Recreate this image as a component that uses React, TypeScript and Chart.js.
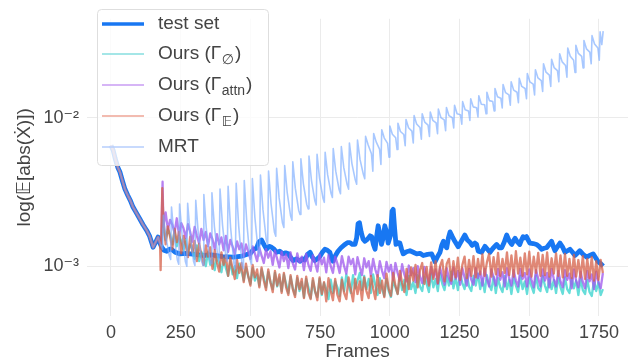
import React, { useEffect, useRef } from 'react';
import { Chart, registerables } from 'chart.js';

Chart.register(...registerables);

// All values below are in units of 10^-3
const UNIT = 1e-3;

const xTicks = [0, 250, 500, 750, 1000, 1250, 1500, 1750];
const yTicks = [1e-3, 1e-2];
const yTickLabels = ['10⁻³', '10⁻²'];

// test set (blue thick line)
const testFrames = [
  0, 8, 15, 25, 32, 42, 50, 60, 70, 79, 90, 104, 115, 128, 138, 146, 151, 160, 169, 176,
  182, 190, 200, 210, 217, 230, 247, 270, 300, 330, 360, 400, 440, 470, 500, 512, 522, 530, 540, 550,
  558, 567, 576, 585, 594, 605, 617, 626, 636, 645, 653, 665, 678, 687, 695, 705, 714, 722, 731, 740,
  749, 758, 767, 776, 785, 790, 796, 805, 814, 825, 839, 848, 857, 866, 875, 881, 886, 891, 897, 904,
  911, 920, 929, 935, 941, 947, 953, 958, 964, 970, 976, 982, 988, 994, 1002, 1008, 1012, 1017, 1022, 1030,
  1036, 1042, 1048, 1060, 1072, 1084, 1096, 1108, 1120, 1135, 1150, 1156, 1162, 1170, 1180, 1186, 1192, 1198, 1204, 1210,
  1216, 1224, 1233, 1240, 1245, 1257, 1269, 1278, 1287, 1295, 1305, 1311, 1317, 1323, 1329, 1341, 1350, 1359, 1370, 1383,
  1392, 1401, 1410, 1419, 1428, 1437, 1443, 1449, 1458, 1466, 1472, 1478, 1484, 1490, 1496, 1502, 1514, 1526, 1535, 1544,
  1553, 1562, 1571, 1580, 1586, 1592, 1601, 1610, 1619, 1628, 1637, 1646, 1655, 1664, 1672, 1681, 1693, 1706, 1717, 1729,
  1738, 1747, 1756, 1765,
];
const testValues = [
  6.5, 6.0, 5.3, 4.6, 4.3, 3.7, 3.3, 3.0, 2.75, 2.5, 2.3, 2.07, 1.9, 1.74, 1.6, 1.44, 1.34, 1.45, 1.57, 1.42,
  1.34, 1.28, 1.26, 1.3, 1.3, 1.24, 1.21, 1.22, 1.2, 1.18, 1.19, 1.16, 1.15, 1.17, 1.22, 1.3, 1.32, 1.45, 1.5, 1.38,
  1.3, 1.36, 1.34, 1.3, 1.24, 1.26, 1.21, 1.23, 1.21, 1.14, 1.09, 1.12, 1.08, 1.12, 1.1, 1.2, 1.24, 1.15, 1.09, 1.12,
  1.16, 1.24, 1.3, 1.28, 1.24, 1.14, 1.08, 1.18, 1.26, 1.33, 1.4, 1.44, 1.44, 1.4, 1.4, 1.55, 1.93, 1.96, 1.7, 1.52,
  1.47, 1.52, 1.6, 1.58, 1.4, 1.3, 1.6, 1.87, 1.65, 1.4, 1.55, 1.87, 1.7, 1.43, 1.6, 2.35, 2.41, 1.8, 1.4, 1.44,
  1.43, 1.3, 1.21, 1.25, 1.27, 1.24, 1.21, 1.22, 1.18, 1.2, 1.21, 1.14, 1.07, 1.15, 1.24, 1.38, 1.47, 1.38, 1.33, 1.55,
  1.7, 1.58, 1.47, 1.4, 1.35, 1.48, 1.62, 1.5, 1.45, 1.38, 1.43, 1.4, 1.26, 1.25, 1.24, 1.36, 1.3, 1.24, 1.32, 1.4,
  1.33, 1.33, 1.45, 1.62, 1.48, 1.4, 1.48, 1.54, 1.45, 1.4, 1.5, 1.58, 1.55, 1.58, 1.5, 1.43, 1.42, 1.4, 1.36, 1.3,
  1.32, 1.33, 1.4, 1.47, 1.36, 1.27, 1.35, 1.43, 1.35, 1.24, 1.27, 1.3, 1.24, 1.18, 1.22, 1.27, 1.2, 1.15, 1.18, 1.21,
  1.14, 1.07, 1.04, 1.0,
];

// Ours series: sampled every 8 frames starting at frame 188
const OURS_START = 188;
const OURS_STEP = 8;

const cyanLeadFrames = [181, 186];
const cyanLeadValues = [1.38, 2.05];
const cyanValues = [
  1.86, 1.50, 1.78, 1.62, 1.40, 1.72, 1.36, 1.60, 1.48, 1.28,
  1.52, 1.22, 1.40, 1.30, 1.12, 1.38, 1.08, 1.25, 1.18, 1.00,
  1.24, 1.02, 1.12, 0.94, 1.18, 1.05, 0.91, 1.12, 0.97, 0.86,
  1.08, 0.88, 1.00, 0.83, 1.04, 0.93, 0.80, 0.98, 0.86, 0.76,
  0.97, 0.80, 0.88, 0.74, 0.95, 0.84, 0.72, 0.91, 0.78, 0.70,
  0.90, 0.73, 0.84, 0.68, 0.88, 0.76, 0.66, 0.85, 0.71, 0.64,
  0.83, 0.68, 0.78, 0.62, 0.82, 0.72, 0.61, 0.80, 0.67, 0.62,
  0.82, 0.64, 0.77, 0.70, 0.60, 0.81, 0.66, 0.79, 0.72, 0.63,
  0.84, 0.68, 0.88, 0.74, 0.66, 0.87, 0.71, 0.80, 0.90, 0.69,
  0.86, 0.70, 0.82, 0.66, 0.88, 0.74, 0.64, 0.83, 0.70, 0.63,
  0.82, 0.68, 0.62, 0.80, 0.72, 0.65, 0.84, 0.69, 0.81, 0.64,
  0.86, 0.70, 0.78, 0.66, 0.87, 0.73, 0.68, 0.85, 0.76, 0.67,
  0.89, 0.72, 0.82, 0.68, 0.90, 0.76, 0.69, 0.86, 0.74, 0.92,
  0.71, 0.84, 0.69, 0.90, 0.77, 0.70, 0.88, 0.73, 0.68, 0.86,
  0.74, 0.89, 0.70, 0.82, 0.67, 0.87, 0.75, 0.69, 0.85, 0.66,
  0.83, 0.72, 0.67, 0.86, 0.70, 0.81, 0.65, 0.84, 0.74, 0.67,
  0.86, 0.70, 0.79, 0.65, 0.84, 0.73, 0.66, 0.87, 0.71, 0.68,
  0.86, 0.74, 0.67, 0.84, 0.70, 0.81, 0.66, 0.85, 0.72, 0.65,
  0.84, 0.70, 0.66, 0.83, 0.71, 0.80, 0.64, 0.82, 0.69, 0.65,
  0.81, 0.67, 0.63, 0.80, 0.68, 0.78, 0.64, 0.70,
];

const attnLeadFrames = [180, 185];
const attnLeadValues = [1.40, 3.70];
const attnValues = [
  1.85, 2.30, 1.76, 2.05, 1.90, 1.68, 2.10, 1.62, 1.95, 1.80,
  1.55, 1.92, 1.70, 1.46, 1.84, 1.60, 1.42, 1.78, 1.50, 1.70,
  1.36, 1.66, 1.52, 1.30, 1.64, 1.40, 1.56, 1.28, 1.60, 1.25,
  1.50, 1.36, 1.20, 1.47, 1.30, 1.42, 1.16, 1.40, 1.26, 1.12,
  1.36, 1.22, 1.08, 1.33, 1.18, 1.05, 1.30, 1.14, 1.26, 1.02,
  1.27, 1.12, 0.98, 1.25, 1.08, 1.20, 0.97, 1.24, 1.04, 0.95,
  1.22, 1.06, 1.16, 0.94, 1.21, 1.02, 0.93, 1.18, 1.05, 0.92,
  1.20, 1.03, 1.14, 0.91, 1.19, 1.00, 0.90, 1.16, 1.04, 0.90,
  1.17, 1.00, 0.89, 1.16, 1.03, 1.12, 0.88, 1.15, 0.99, 0.87,
  1.13, 0.98, 1.08, 0.86, 1.12, 0.95, 0.85, 1.08, 0.93, 0.83,
  1.07, 0.92, 1.02, 0.81, 1.05, 0.90, 0.80, 1.03, 0.88, 0.79,
  1.01, 0.87, 0.97, 0.78, 1.00, 0.85, 0.77, 0.99, 0.86, 0.76,
  0.99, 0.84, 0.95, 0.76, 0.98, 0.85, 0.75, 0.97, 0.83, 0.76,
  0.98, 0.82, 0.93, 0.75, 0.97, 0.84, 0.74, 0.96, 0.81, 0.75,
  0.97, 0.83, 0.92, 0.74, 0.96, 0.82, 0.73, 0.95, 0.84, 0.74,
  0.96, 0.81, 0.91, 0.73, 0.97, 0.83, 0.74, 0.94, 0.80, 0.73,
  0.96, 0.82, 0.90, 0.73, 0.95, 0.81, 0.72, 0.94, 0.83, 0.73,
  0.95, 0.80, 0.90, 0.72, 0.96, 0.82, 0.73, 0.93, 0.79, 0.72,
  0.94, 0.81, 0.89, 0.71, 0.95, 0.80, 0.72, 0.92, 0.78, 0.71,
  0.93, 0.79, 0.88, 0.70, 0.92, 0.78, 0.71, 0.90,
];

const eLeadFrames = [178, 184];
const eLeadValues = [0.94, 3.35];
const eValues = [
  2.00, 1.40, 1.85, 1.58, 1.30, 1.78, 1.45, 1.70, 1.22, 1.60,
  1.38, 1.15, 1.58, 1.24, 1.48, 1.08, 1.42, 1.20, 1.02, 1.38,
  1.16, 1.34, 0.96, 1.28, 1.06, 0.92, 1.24, 1.02, 1.18, 0.86,
  1.14, 0.96, 0.82, 1.10, 0.90, 1.05, 0.78, 1.04, 0.86, 0.74,
  1.02, 0.84, 0.95, 0.72, 0.98, 0.80, 0.69, 0.95, 0.78, 0.67,
  0.93, 0.74, 0.88, 0.66, 0.90, 0.72, 0.64, 0.87, 0.70, 0.62,
  0.86, 0.70, 0.82, 0.61, 0.85, 0.66, 0.60, 0.83, 0.68, 0.59,
  0.84, 0.65, 0.78, 0.58, 0.83, 0.68, 0.59, 0.82, 0.64, 0.58,
  0.81, 0.66, 0.60, 0.84, 0.70, 0.58, 0.82, 0.65, 0.79, 0.59,
  0.84, 0.68, 0.61, 0.86, 0.71, 0.60, 0.87, 0.66, 0.80, 0.62,
  0.89, 0.70, 0.63, 0.90, 0.74, 0.65, 0.93, 0.77, 0.67, 0.96,
  0.70, 0.98, 0.80, 1.02, 0.72, 0.94, 1.05, 0.76, 0.99, 0.74,
  1.06, 0.82, 1.08, 0.77, 1.00, 1.10, 0.79, 1.04, 1.12, 0.80,
  1.08, 0.84, 1.14, 0.81, 1.02, 1.16, 0.83, 1.10, 0.86, 1.17,
  0.84, 1.12, 0.88, 1.20, 0.86, 1.06, 1.21, 0.85, 1.15, 0.88,
  1.23, 0.86, 1.12, 0.90, 1.24, 0.87, 1.18, 0.85, 1.26, 0.89,
  1.14, 0.86, 1.22, 0.88, 1.25, 0.85, 1.16, 0.90, 1.23, 0.86,
  1.19, 0.87, 1.24, 0.85, 1.13, 0.89, 1.22, 0.86, 1.18, 0.84,
  1.21, 0.86, 1.12, 0.83, 1.19, 0.85, 1.10, 0.84, 1.17, 0.82,
  1.12, 0.83, 1.15, 0.80, 1.08, 0.81, 1.10, 0.90,
];

// MRT (sawtooth that grows over time)
const mrtFrames = [
  185, 188, 197, 209, 214, 217, 226, 238, 243, 246, 255, 267, 272, 275, 284, 296,
  301, 304, 313, 325, 330, 333, 342, 354, 359, 362, 371, 383, 388, 391, 400, 412,
  417, 420, 429, 441, 446, 449, 458, 470, 475, 478, 487, 499, 504, 507, 516, 528,
  533, 536, 545, 557, 562, 565, 574, 586, 591, 594, 603, 615, 620, 623, 632, 644,
  649, 652, 661, 673, 678, 681, 690, 702, 707, 710, 719, 731, 736, 739, 748, 760,
  765, 768, 777, 789, 794, 797, 806, 818, 823, 826, 835, 847, 852, 855, 864, 876,
  881, 884, 893, 905, 910, 913, 922, 934, 939, 942, 951, 963, 968, 971, 980, 992,
  997, 1000, 1009, 1021, 1026, 1029, 1038, 1050, 1055, 1058, 1067, 1079, 1084, 1087, 1096, 1108,
  1113, 1116, 1125, 1137, 1142, 1145, 1154, 1166, 1171, 1174, 1183, 1195, 1200, 1203, 1212, 1224,
  1229, 1232, 1241, 1253, 1258, 1261, 1270, 1282, 1287, 1290, 1299, 1311, 1316, 1319, 1328, 1340,
  1345, 1348, 1357, 1369, 1374, 1377, 1386, 1398, 1403, 1406, 1415, 1427, 1432, 1435, 1444, 1456,
  1461, 1464, 1473, 1485, 1490, 1493, 1502, 1514, 1519, 1522, 1531, 1543, 1548, 1551, 1560, 1572,
  1577, 1580, 1589, 1601, 1606, 1609, 1618, 1630, 1635, 1638, 1647, 1659, 1664, 1667, 1676, 1688,
  1693, 1696, 1705, 1717, 1722, 1725, 1734, 1746, 1751, 1754, 1760, 1765,
];
const mrtValues = [
  1.30, 2.20, 1.56, 1.18, 1.11, 2.50, 1.60, 1.10, 1.03, 2.62, 1.62, 1.07, 1.00, 2.65, 1.64, 1.08,
  1.01, 2.77, 1.67, 1.08, 1.01, 3.03, 1.78, 1.11, 1.04, 3.12, 1.84, 1.16, 1.09, 3.30, 1.89, 1.15,
  1.08, 3.45, 1.82, 1.03, 0.96, 3.61, 1.86, 1.02, 0.96, 3.77, 1.97, 1.10, 1.03, 3.88, 2.13, 1.25,
  1.17, 4.11, 2.40, 1.50, 1.40, 4.36, 2.63, 1.70, 1.59, 4.55, 2.88, 1.95, 1.82, 4.76, 3.12, 2.18,
  2.04, 5.04, 3.35, 2.38, 2.23, 5.27, 3.58, 2.60, 2.43, 5.50, 3.77, 2.76, 2.58, 5.66, 3.90, 2.88,
  2.69, 5.83, 4.11, 3.10, 2.90, 6.18, 4.36, 3.28, 3.07, 6.37, 4.58, 3.53, 3.30, 6.75, 4.90, 3.81,
  3.56, 7.05, 5.23, 4.15, 3.88, 7.47, 6.57, 5.71, 4.36, 7.80, 6.86, 6.14, 4.83, 8.27, 7.28, 6.70,
  5.42, 8.77, 7.72, 7.31, 6.09, 9.16, 8.06, 7.69, 6.46, 9.71, 8.54, 8.10, 6.75, 10.3, 9.06, 8.58,
  7.15, 10.6, 9.33, 8.90, 7.47, 10.9, 9.59, 9.22, 7.80, 11.4, 10.0, 9.64, 8.15, 11.7, 10.3, 9.98,
  8.52, 12.1, 10.6, 10.45, 9.03, 12.8, 11.3, 11.07, 9.57, 13.4, 11.8, 11.63, 10.1, 14.0, 12.3, 12.18,
  10.6, 14.8, 13.0, 12.82, 11.1, 15.7, 13.8, 13.5, 11.6, 16.7, 14.7, 14.2, 12.1, 17.4, 15.3, 14.8,
  12.6, 18.4, 16.2, 15.7, 13.4, 19.8, 17.4, 16.8, 14.2, 21.0, 18.5, 17.7, 15.0, 23.0, 20.2, 19.3,
  16.2, 24.7, 21.7, 20.7, 17.4, 26.9, 23.7, 22.4, 18.7, 29.4, 25.9, 24.3, 20.1, 30.7, 27.0, 25.8,
  21.6, 33.0, 29.0, 27.6, 23.0, 35.6, 31.3, 29.4, 24.3, 37.7, 31.0, 38.2,
];

const FONT = '"Liberation Sans", Arial, "DejaVu Sans", sans-serif';
const TEXT = '#444444';

const COLORS = {
  test: '#1877f2',
  empty: 'rgba(64, 212, 208, 0.8)',
  attn: 'rgba(158, 86, 236, 0.75)',
  e: 'rgba(214, 96, 72, 0.75)',
  mrt: 'rgba(122, 170, 255, 0.65)',
};
const LEGEND_COLORS = ['#1877f2', '#86dedf', '#c99cf3', '#eea596', '#b6cefc'];

const pts = (frames: number[], values: number[]) => frames.map((f, i) => ({ x: f, y: values[i] * UNIT }));

const legendPlugin = {
  id: 'customLegend',
  afterDatasetsDraw(chart: any) {
    const ctx = chart.ctx as CanvasRenderingContext2D;
    ctx.save();
    const bx = 97, by = 9, bw = 171, bh = 156;
    ctx.beginPath();
    (ctx as any).roundRect(bx + 0.5, by + 0.5, bw, bh, 4);
    ctx.fillStyle = 'rgba(255,255,255,0.8)';
    ctx.fill();
    ctx.strokeStyle = '#dedede';
    ctx.lineWidth = 1;
    ctx.stroke();

    const rows = [24, 54, 85, 116, 147];
    const items = [
      { main: 'test set', sub: '', tail: '', w: 3.5 },
      { main: 'Ours (Γ', sub: '∅', tail: ')', w: 1.5 },
      { main: 'Ours (Γ', sub: 'attn', tail: ')', w: 1.5 },
      { main: 'Ours (Γ', sub: '𝔼', tail: ')', w: 1.5 },
      { main: 'MRT', sub: '', tail: '', w: 1.5 },
    ];
    items.forEach((it, i) => {
      const y = rows[i];
      ctx.beginPath();
      ctx.moveTo(102, y);
      ctx.lineTo(144, y);
      ctx.strokeStyle = LEGEND_COLORS[i];
      ctx.lineWidth = it.w;
      ctx.stroke();
      ctx.fillStyle = TEXT;
      ctx.textBaseline = 'middle';
      ctx.textAlign = 'left';
      ctx.font = `19px ${FONT}`;
      let x = 158;
      ctx.fillText(it.main, x, y);
      x += ctx.measureText(it.main).width;
      if (it.sub) {
        ctx.font = `14px ${FONT}`;
        ctx.fillText(it.sub, x + 0.5, y + 6);
        x += ctx.measureText(it.sub).width + 1.5;
        ctx.font = `19px ${FONT}`;
        ctx.fillText(it.tail, x, y);
      }
    });
    ctx.restore();
  },
};

export default function App() {
  const ref = useRef<HTMLCanvasElement>(null);

  useEffect(() => {
    if (!ref.current) return;
    const context = pts(testFrames, testValues).filter((p) => p.x <= 176);
    const mrtContext = pts(testFrames, testValues).filter((p) => p.x <= 182);
    const oursFrames = cyanValues.map((_, i) => OURS_START + i * OURS_STEP);

    const common = { pointRadius: 0, fill: false, tension: 0, borderJoinStyle: 'round' as const };

    const chart = new Chart(ref.current, {
      type: 'line',
      data: {
        datasets: [
          { ...common, label: 'test set', data: pts(testFrames, testValues), borderColor: COLORS.test, borderWidth: 4.8, order: 5 },
          {
            ...common, label: 'Ours (Γ∅)', borderColor: COLORS.empty, borderWidth: 2.3, order: 4,
            data: [...context, ...pts(cyanLeadFrames, cyanLeadValues), ...pts(oursFrames, cyanValues)],
          },
          {
            ...common, label: 'Ours (Γattn)', borderColor: COLORS.attn, borderWidth: 2.3, order: 3,
            data: [...context, ...pts(attnLeadFrames, attnLeadValues), ...pts(oursFrames, attnValues)],
          },
          {
            ...common, label: 'Ours (Γ𝔼)', borderColor: COLORS.e, borderWidth: 2.3, order: 2,
            data: [...context, ...pts(eLeadFrames, eLeadValues), ...pts(oursFrames, eValues)],
          },
          {
            ...common, label: 'MRT', borderColor: COLORS.mrt, borderWidth: 1.6, order: 1,
            data: [...mrtContext, ...pts(mrtFrames, mrtValues)],
          },
        ],
      },
      options: {
        animation: false,
        responsive: false,
        layout: { padding: { left: 0, right: 3, top: 0, bottom: 0 } },
        plugins: { legend: { display: false }, tooltip: { enabled: false } },
        scales: {
          x: {
            type: 'linear',
            min: -86,
            max: 1854,
            afterBuildTicks: (s: any) => { s.ticks = xTicks.map((v) => ({ value: v })); },
            afterFit: (s: any) => { s.height = 48; },
            grid: { color: '#ebebeb', drawTicks: false, lineWidth: 1 },
            border: { display: false },
            ticks: { color: TEXT, font: { family: FONT, size: 18 }, padding: 6, maxRotation: 0, callback: (v: any) => String(v) },
            title: { display: true, text: 'Frames', color: TEXT, font: { family: FONT, size: 19 }, padding: { top: 0, bottom: 1 } },
          },
          y: {
            type: 'logarithmic',
            min: 4.62e-4,
            max: 0.0462,
            afterBuildTicks: (s: any) => { s.ticks = yTicks.map((v) => ({ value: v })); },
            afterFit: (s: any) => { s.width = 87; },
            grid: { color: '#ebebeb', drawTicks: false, lineWidth: 1 },
            border: { display: false },
            ticks: { color: TEXT, font: { family: FONT, size: 18 }, padding: 8, callback: (_v: any, i: number) => yTickLabels[i] },
            title: { display: true, text: 'log(𝔼[abs(Ẋ)])', color: TEXT, font: { family: FONT, size: 19 }, padding: { top: 13, bottom: 0 } },
          },
        },
      },
      plugins: [legendPlugin],
    });
    return () => chart.destroy();
  }, []);

  return (
    <div style={{ position: 'fixed', left: 0, top: 0, width: 631, height: 364, background: '#fff' }}>
      <canvas ref={ref} width={631} height={364} style={{ display: 'block' }} />
    </div>
  );
}
